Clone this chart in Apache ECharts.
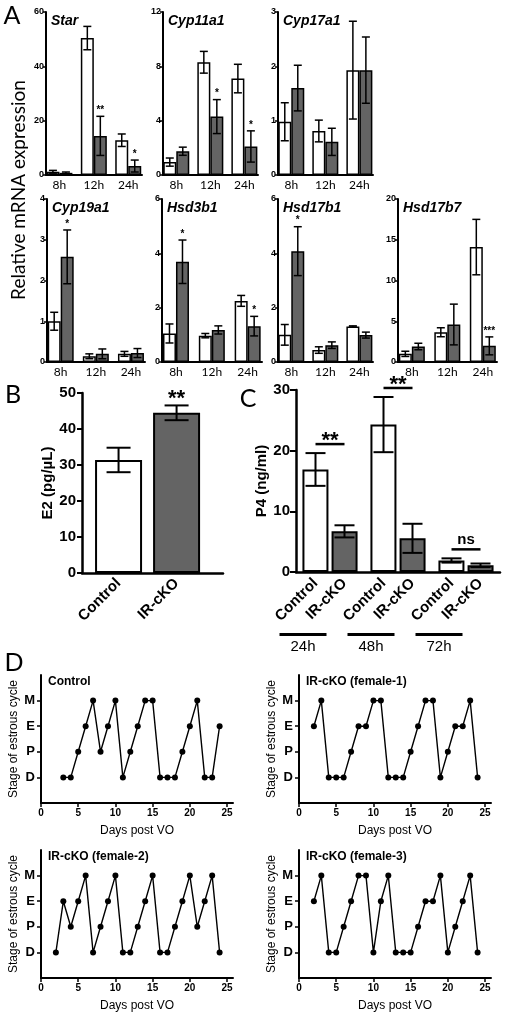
<!DOCTYPE html>
<html><head><meta charset="utf-8">
<script src="https://cdn.jsdelivr.net/npm/echarts@6/dist/echarts.min.js"></script>
<style>html,body{margin:0;padding:0;background:#fff}#c{width:505px;height:1018px}</style>
</head><body><div id="c"></div><script>
// ================= DATA =================
const times = ['8h', '12h', '24h'];
// Panel A (relative mRNA expression)
const starCtrl = [1.2, 50.4, 12.8], starCtrlErr = [0.5, 4.3, 2.3];
const starKO = [0.8, 14.4, 3.3], starKOErr = [0.3, 7.2, 2.2], starSig = ['', '**', '*'];
const cyp11Ctrl = [0.95, 8.3, 7.1], cyp11CtrlErr = [0.3, 0.8, 1.05];
const cyp11KO = [1.75, 4.3, 2.1], cyp11KOErr = [0.3, 1.25, 1.15], cyp11Sig = ['', '*', '*'];
const cyp17Ctrl = [0.98, 0.81, 1.93], cyp17CtrlErr = [0.35, 0.2, 0.9];
const cyp17KO = [1.6, 0.61, 1.93], cyp17KOErr = [0.42, 0.25, 0.61], cyp17Sig = ['', '', ''];
const cyp19Ctrl = [1.0, 0.14, 0.2], cyp19CtrlErr = [0.22, 0.06, 0.06];
const cyp19KO = [2.58, 0.2, 0.22], cyp19KOErr = [0.66, 0.12, 0.11], cyp19Sig = ['*', '', ''];
const hsd3Ctrl = [1.05, 0.97, 2.25], hsd3CtrlErr = [0.35, 0.08, 0.2];
const hsd3KO = [3.69, 1.18, 1.32], hsd3KOErr = [0.8, 0.15, 0.36], hsd3Sig = ['*', '', '*'];
const hsd17b1Ctrl = [1.0, 0.44, 1.31], hsd17b1CtrlErr = [0.38, 0.12, 0.02];
const hsd17b1KO = [4.08, 0.62, 0.99], hsd17b1KOErr = [0.9, 0.12, 0.11], hsd17b1Sig = ['*', '', ''];
const hsd17b7Ctrl = [1.0, 3.65, 14.1], hsd17b7CtrlErr = [0.32, 0.55, 3.4];
const hsd17b7KO = [1.9, 4.6, 1.98], hsd17b7KOErr = [0.4, 2.5, 1.1], hsd17b7Sig = ['', '', '***'];
// y-axis tick settings (max, step)
const starTicks = [60, 20], cyp11Ticks = [12, 4], cyp17Ticks = [3, 1], cyp19Ticks = [4, 1];
const hsd3Ticks = [6, 2], hsd17b1Ticks = [6, 2], hsd17b7Ticks = [20, 5];

// Panel B (E2)
const bNames = ['Control', 'IR-cKO'];
const e2Mean = [31.4, 44.5], e2Err = [3.4, 2.05], e2Sig = ['', '**'];
// Panel C (P4)
const p4Times = ['24h', '48h', '72h'];
const p4Ctrl = [16.9, 24.3, 1.9], p4CtrlErr = [2.7, 4.55, 0.35];
const p4KO = [6.7, 5.55, 1.1], p4KOErr = [1.0, 2.4, 0.3];
const p4Sig = ['**', '**', 'ns'];
// Panel D (estrous cycle)
const stages = ['D', 'P', 'E', 'M'];
const dayTicks = [0, 5, 10, 15, 20, 25];
const ctrlDays = [3,4,5,6,7,8,9,10,11,12,13,14,15,16,17,18,19,20,21,22,23,24];
const ctrlStages = ['D','D','P','E','M','P','E','M','D','P','E','M','M','D','D','D','P','E','M','D','D','E'];
const f1Days = [2,3,4,5,6,7,8,9,10,11,12,13,14,15,16,17,18,19,20,21,22,23,24];
const f1Stages = ['E','M','D','D','D','P','E','E','M','M','D','D','D','P','E','M','M','D','P','E','E','M','D'];
const f2Days = [2,3,4,5,6,7,8,9,10,11,12,13,14,15,16,17,18,19,20,21,22,23,24];
const f2Stages = ['D','E','P','E','M','D','P','E','M','D','D','P','E','M','D','D','P','E','M','P','E','M','D'];
const f3Days = [2,3,4,5,6,7,8,9,10,11,12,13,14,15,16,17,18,19,20,21,22,23,24];
const f3Stages = ['E','M','D','D','P','E','M','M','D','E','M','D','D','D','P','E','E','M','D','P','E','M','D'];

// ================= BUILD =================
const SANS = '"Liberation Sans", Arial, sans-serif';
const CAL = 'Lato, "Open Sans", sans-serif';
const GRAY = '#646464';
const grids = [], xAxes = [], yAxes = [], series = [], graphics = [];

function errBars(halfOff, capHalf, lw, sigLabels, sigSize, sigLift) {
  return function (params, api) {
    const x = api.value(0), m = api.value(1), e = api.value(2), side = api.value(3);
    const pT = api.coord([x, m + e]);
    const pB = api.coord([x, Math.max(m - e, 0)]);
    const cx = pT[0] + (side ? halfOff : -halfOff);
    const st = { stroke: '#000', lineWidth: lw };
    const ch = [
      { type: 'line', shape: { x1: cx, y1: pT[1], x2: cx, y2: pB[1] }, style: st },
      { type: 'line', shape: { x1: cx - capHalf, y1: pT[1], x2: cx + capHalf, y2: pT[1] }, style: st },
      { type: 'line', shape: { x1: cx - capHalf, y1: pB[1], x2: cx + capHalf, y2: pB[1] }, style: st }
    ];
    const lab = sigLabels ? sigLabels[params.dataIndex] : '';
    if (lab) ch.push({ type: 'text', style: { text: lab, x: cx, y: pT[1] - sigLift, align: 'center', verticalAlign: 'bottom',
      fontSize: sigSize, fontWeight: 'bold', fontFamily: SANS, fill: '#000' } });
    return { type: 'group', children: ch };
  };
}

// ----- Panel A -----
const genes = [
  { name: 'Star', c: starCtrl, ce: starCtrlErr, k: starKO, ke: starKOErr, s: starSig, t: starTicks },
  { name: 'Cyp11a1', c: cyp11Ctrl, ce: cyp11CtrlErr, k: cyp11KO, ke: cyp11KOErr, s: cyp11Sig, t: cyp11Ticks },
  { name: 'Cyp17a1', c: cyp17Ctrl, ce: cyp17CtrlErr, k: cyp17KO, ke: cyp17KOErr, s: cyp17Sig, t: cyp17Ticks },
  { name: 'Cyp19a1', c: cyp19Ctrl, ce: cyp19CtrlErr, k: cyp19KO, ke: cyp19KOErr, s: cyp19Sig, t: cyp19Ticks },
  { name: 'Hsd3b1', c: hsd3Ctrl, ce: hsd3CtrlErr, k: hsd3KO, ke: hsd3KOErr, s: hsd3Sig, t: hsd3Ticks },
  { name: 'Hsd17b1', c: hsd17b1Ctrl, ce: hsd17b1CtrlErr, k: hsd17b1KO, ke: hsd17b1KOErr, s: hsd17b1Sig, t: hsd17b1Ticks },
  { name: 'Hsd17b7', c: hsd17b7Ctrl, ce: hsd17b7CtrlErr, k: hsd17b7KO, ke: hsd17b7KOErr, s: hsd17b7Sig, t: hsd17b7Ticks }
];
const geneLayout = [
  { left: 46, top: 12, width: 96, height: 163 },
  { left: 163, top: 12, width: 95, height: 163 },
  { left: 278, top: 12, width: 95, height: 163 },
  { left: 47, top: 199, width: 98, height: 163 },
  { left: 162, top: 199, width: 100, height: 163 },
  { left: 278, top: 199, width: 95, height: 163 },
  { left: 398, top: 199, width: 99, height: 163 }
];
genes.forEach((g, n) => {
  const L = geneLayout[n];
  const gi = grids.length;
  grids.push(Object.assign({ outerBoundsMode: 'none', containLabel: false }, L));
  xAxes.push({ gridIndex: gi, type: 'value', min: -0.39, max: 2.4,
    axisLine: { show: true, onZero: false, lineStyle: { color: '#000', width: 2 } },
    axisTick: { show: false }, splitLine: { show: false },
    axisLabel: { customValues: [0, 1, 2], formatter: v => times[v], fontFamily: CAL, fontSize: 12, color: '#000', margin: 4 } });
  yAxes.push({ gridIndex: gi, type: 'value', min: 0, max: g.t[0], interval: g.t[1],
    axisLine: { show: true, onZero: false, lineStyle: { color: '#000', width: 2 } },
    axisTick: { show: true, length: 3, lineStyle: { color: '#000', width: 1.5 } }, splitLine: { show: false },
    axisLabel: { fontFamily: SANS, fontWeight: 'bold', fontSize: 9, color: '#000', margin: 2 } });
  series.push({ type: 'bar', name: 'Control', xAxisIndex: gi, yAxisIndex: gi, data: g.c.map((v, i) => [i, v]),
    barWidth: 13, barGap: '0%', itemStyle: { color: '#fff', borderColor: '#000', borderWidth: 1.5 } });
  series.push({ type: 'bar', name: 'IR-cKO', xAxisIndex: gi, yAxisIndex: gi, data: g.k.map((v, i) => [i, v]),
    barWidth: 13, barGap: '0%', itemStyle: { color: GRAY, borderColor: '#000', borderWidth: 1.5 } });
  const ed = g.c.map((v, i) => [i, v, g.ce[i], 0]).concat(g.k.map((v, i) => [i, v, g.ke[i], 1]));
  series.push({ type: 'custom', xAxisIndex: gi, yAxisIndex: gi, data: ed, z: 10,
    renderItem: errBars(6.5, 4, 1.5, ['', '', ''].concat(g.s), 10, 1) });
  graphics.push({ type: 'text', x: L.left + 5, y: L.top + 2, style: { text: g.name, fill: '#000',
    font: 'italic bold 14px ' + SANS, align: 'left', verticalAlign: 'top', textAlign: 'left', textVerticalAlign: 'top' } });
});

// ----- Panel B -----
{
  const gi = grids.length;
  grids.push({ outerBoundsMode: 'none', containLabel: false, left: 82, top: 393, width: 141, height: 180 });
  xAxes.push({ gridIndex: gi, type: 'value', min: -0.63, max: 1.8,
    axisLine: { show: true, onZero: false, lineStyle: { color: '#000', width: 2.5 } },
    axisTick: { show: false }, splitLine: { show: false },
    axisLabel: { customValues: [0, 1], formatter: v => bNames[v], rotate: 45, fontFamily: SANS, fontWeight: 'bold', fontSize: 15, color: '#000', margin: 8 } });
  yAxes.push({ gridIndex: gi, type: 'value', min: 0, max: 50, interval: 10,
    axisLine: { show: true, onZero: false, lineStyle: { color: '#000', width: 2.5 } },
    axisTick: { show: true, length: 5, lineStyle: { color: '#000', width: 2 } }, splitLine: { show: false },
    axisLabel: { fontFamily: SANS, fontWeight: 'bold', fontSize: 15, color: '#000', margin: 6 },
    name: 'E2 (pg/\u00b5L)', nameLocation: 'middle', nameRotate: 90, nameGap: 18,
    nameTextStyle: { fontFamily: SANS, fontWeight: 'bold', fontSize: 15, color: '#000' } });
  series.push({ type: 'bar', xAxisIndex: gi, yAxisIndex: gi, barWidth: 47,
    data: e2Mean.map((v, i) => ({ value: [i, v], itemStyle: { color: i === 0 ? '#fff' : GRAY } })),
    itemStyle: { borderColor: '#000', borderWidth: 2 } });
  series.push({ type: 'custom', xAxisIndex: gi, yAxisIndex: gi, z: 10,
    data: e2Mean.map((v, i) => [i, v, e2Err[i], 0]), renderItem: errBars(0, 12, 2, e2Sig, 22, -5) });
}

// ----- Panel C -----
{
  const gi = grids.length;
  grids.push({ outerBoundsMode: 'none', containLabel: false, left: 296, top: 390, width: 204, height: 182 });
  xAxes.push({ gridIndex: gi, type: 'category', data: p4Times,
    axisLine: { show: true, lineStyle: { color: '#000', width: 2.5 } }, axisTick: { show: false },
    axisLabel: { formatter: v => '{ln| }\n{t|' + v + '}', margin: 61, padding: [0, 54, 0, 0],
      rich: { ln: { width: 47, height: 3, backgroundColor: '#000' },
              t: { fontFamily: SANS, fontSize: 15, color: '#000', padding: [3, 0, 0, 0] } } } });
  yAxes.push({ gridIndex: gi, type: 'value', min: 0, max: 30, interval: 10,
    axisLine: { show: true, lineStyle: { color: '#000', width: 2.5 } },
    axisTick: { show: true, length: 6, lineStyle: { color: '#000', width: 2 } }, splitLine: { show: false },
    axisLabel: { fontFamily: SANS, fontWeight: 'bold', fontSize: 15, color: '#000', margin: 6 },
    name: 'P4 (ng/ml)', nameLocation: 'middle', nameRotate: 90, nameGap: 25,
    nameTextStyle: { fontFamily: SANS, fontWeight: 'bold', fontSize: 15, color: '#000' } });
  const barLabel = { show: true, position: 'bottom', distance: 9, rotate: 45, align: 'right', verticalAlign: 'middle',
    formatter: '{a}', fontFamily: SANS, fontWeight: 'bold', fontSize: 15, color: '#000' };
  series.push({ type: 'bar', name: 'Control', xAxisIndex: gi, yAxisIndex: gi, data: p4Ctrl, barWidth: 26, barGap: '12%',
    itemStyle: { color: '#fff', borderColor: '#000', borderWidth: 2 }, label: barLabel });
  series.push({ type: 'bar', name: 'IR-cKO', xAxisIndex: gi, yAxisIndex: gi, data: p4KO, barWidth: 26, barGap: '12%',
    itemStyle: { color: GRAY, borderColor: '#000', borderWidth: 2 }, label: barLabel });
  const ed = p4Ctrl.map((v, i) => [i, v, p4CtrlErr[i], 0]).concat(p4KO.map((v, i) => [i, v, p4KOErr[i], 1]));
  series.push({ type: 'custom', xAxisIndex: gi, yAxisIndex: gi, z: 10, data: ed, renderItem: errBars(14.5, 10, 2, null, 0, 0) });
  const sd = p4Ctrl.map((v, i) => [i, Math.max(v + p4CtrlErr[i], p4KO[i] + p4KOErr[i])]);
  series.push({ type: 'custom', xAxisIndex: gi, yAxisIndex: gi, z: 10, data: sd,
    renderItem: function (params, api) {
      const p = api.coord([api.value(0), api.value(1)]);
      const ly = p[1] - 9;
      const lab = p4Sig[params.dataIndex];
      const isNs = lab === 'ns';
      return { type: 'group', children: [
        { type: 'line', shape: { x1: p[0] - 14.5, y1: ly, x2: p[0] + 14.5, y2: ly }, style: { stroke: '#000', lineWidth: 2.5 } },
        { type: 'text', style: { text: lab, x: p[0], y: isNs ? ly - 2 : ly + 8, align: 'center', verticalAlign: 'bottom',
          fontFamily: SANS, fontWeight: 'bold', fontSize: isNs ? 15 : 22, fill: '#000' } }
      ] };
    } });
}

// ----- Panel D -----
const dPanels = [
  { title: 'Control', days: ctrlDays, st: ctrlStages, left: 41, top: 675 },
  { title: 'IR-cKO (female-1)', days: f1Days, st: f1Stages, left: 299, top: 675 },
  { title: 'IR-cKO (female-2)', days: f2Days, st: f2Stages, left: 41, top: 850 },
  { title: 'IR-cKO (female-3)', days: f3Days, st: f3Stages, left: 299, top: 850 }
];
dPanels.forEach(d => {
  const gi = grids.length;
  grids.push({ outerBoundsMode: 'none', containLabel: false, left: d.left, top: d.top, width: 192, height: 128 });
  xAxes.push({ gridIndex: gi, type: 'value', min: 0, max: 25.8,
    axisLine: { show: true, onZero: false, lineStyle: { color: '#000', width: 2 } },
    axisTick: { show: true, customValues: dayTicks, length: 4, lineStyle: { color: '#000', width: 1.5 } },
    splitLine: { show: false },
    axisLabel: { customValues: dayTicks, fontFamily: SANS, fontWeight: 'bold', fontSize: 10, color: '#000', margin: 5 },
    name: 'Days post VO', nameLocation: 'middle', nameGap: 22,
    nameTextStyle: { fontFamily: SANS, fontSize: 12, color: '#000' } });
  yAxes.push({ gridIndex: gi, type: 'value', min: 0, max: 5,
    axisLine: { show: true, onZero: false, lineStyle: { color: '#000', width: 2 } },
    axisTick: { show: true, customValues: [1, 2, 3, 4], length: 4, lineStyle: { color: '#000', width: 1.5 } },
    splitLine: { show: false },
    axisLabel: { customValues: [1, 2, 3, 4], formatter: v => stages[v - 1], fontFamily: SANS, fontWeight: 'bold', fontSize: 13, color: '#000', margin: 6 },
    name: 'Stage of estrous cycle', nameLocation: 'middle', nameRotate: 90, nameGap: 21,
    nameTextStyle: { fontFamily: SANS, fontSize: 12, color: '#000' } });
  series.push({ type: 'line', xAxisIndex: gi, yAxisIndex: gi,
    data: d.days.map((x, i) => [x, stages.indexOf(d.st[i]) + 1]),
    symbol: 'circle', symbolSize: 6, showAllSymbol: true,
    lineStyle: { color: '#000', width: 1.4 }, itemStyle: { color: '#000', borderWidth: 0 } });
  graphics.push({ type: 'text', x: d.left + 7, y: d.top + 1, style: { text: d.title, fill: '#000',
    font: 'bold 12px ' + SANS, align: 'left', verticalAlign: 'top', textAlign: 'left', textVerticalAlign: 'top' } });
});

// ----- Static labels -----
const letter = (t, x, y) => ({ type: 'text', x: x, y: y, style: { text: t, fill: '#000', font: '25px ' + CAL,
  align: 'center', verticalAlign: 'middle', textAlign: 'center', textVerticalAlign: 'middle' } });
graphics.push(letter('A', 12, 16), letter('B', 13, 395), letter('C', 248, 399), letter('D', 14, 663));
graphics.push({ type: 'text', x: 19, y: 190, rotation: Math.PI / 2, style: { text: 'Relative mRNA expression', fill: '#000',
  font: '19px ' + CAL, align: 'center', verticalAlign: 'middle', textAlign: 'center', textVerticalAlign: 'middle' } });

const chart = echarts.init(document.getElementById('c'));
chart.setOption({
  animation: false,
  backgroundColor: '#fff',
  grid: grids, xAxis: xAxes, yAxis: yAxes, series: series,
  graphic: { elements: graphics }
});
</script></body></html>
